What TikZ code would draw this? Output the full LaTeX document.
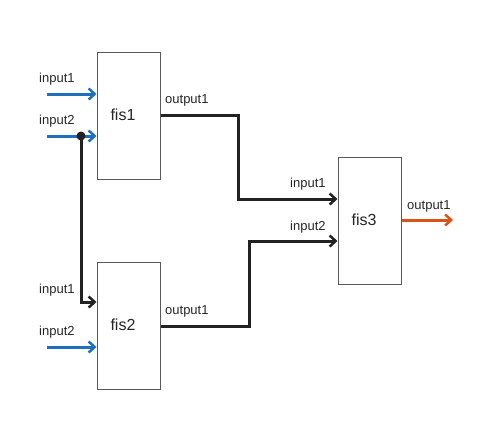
\documentclass[tikz,border=0pt]{standalone}
\usepackage{fontspec}
\setmainfont{Liberation Sans}
\usetikzlibrary{arrows.meta}
\definecolor{inblue}{HTML}{1F6FBF}
\definecolor{outorange}{HTML}{D95319}
\definecolor{wire}{HTML}{222222}
\begin{document}
\begin{tikzpicture}[x=1pt,y=-1pt,
  fisbox/.style={draw=black!65,line width=1pt,fill=white,minimum width=63pt,minimum height=127pt,inner sep=0pt},
  fislabel/.style={font=\fontsize{16}{18}\selectfont,text=black!85},
  portlabel/.style={font=\fontsize{13}{15}\selectfont,text=black!85,inner sep=0pt},
  tip/.style={-{Straight Barb[length=6pt,width=11pt,line width=2.5pt]}},
  blueline/.style={draw=inblue,line width=3pt,tip},
  orangeline/.style={draw=outorange,line width=3pt,tip},
  wireline/.style={draw=wire,line width=3pt},
  ]
\useasboundingbox (0,0) rectangle (490,440);
% boxes
\node[fisbox] (fis1) at (128.5,115.5) {};
\node[fisbox] (fis2) at (128.5,326) {};
\node[fisbox] (fis3) at (369.5,220.5) {};
\node[fislabel] at (123,115) {fis1};
\node[fislabel] at (123,325) {fis2};
\node[fislabel] at (364,220) {fis3};
% coordinates
\coordinate (a1s) at (47,94);
\coordinate (a1e) at (fis1.west |- a1s);
\coordinate (a2s) at (47,136);
\coordinate (a2e) at (fis1.west |- a2s);
\coordinate (dot) at (81,136);
\coordinate (b1c) at (81,302);
\coordinate (b1e) at (fis2.west |- b1c);
\coordinate (b2s) at (47,347);
\coordinate (b2e) at (fis2.west |- b2s);
\coordinate (o1s) at (fis1.east |- 0,115);
\coordinate (o1m) at (238,115);
\coordinate (o1n) at (238,199);
\coordinate (c1e) at (fis3.west |- 0,199);
\coordinate (o2s) at (fis2.east |- 0,326);
\coordinate (o2m) at (249,326);
\coordinate (o2n) at (249,241);
\coordinate (c2e) at (fis3.west |- 0,241);
\coordinate (o3s) at (fis3.east |- 0,220);
\coordinate (o3e) at (453,220);
% wires
\draw[blueline] (a1s) -- (a1e);
\draw[blueline] (a2s) -- (a2e);
\draw[blueline] (b2s) -- (b2e);
\draw[wireline,tip] (dot) -- (b1c) -- (b1e);
\fill[wire] (dot) circle (4.5pt);
\draw[wireline,tip] (o1s) -- (o1m) -- (o1n) -- (c1e);
\draw[wireline,tip] (o2s) -- (o2m) -- (o2n) -- (c2e);
\draw[orangeline] (o3s) -- (o3e);
% labels
\node[portlabel,anchor=west] at (39,79) {input1};
\node[portlabel,anchor=west] at (39,121) {input2};
\node[portlabel,anchor=west] at (39,290) {input1};
\node[portlabel,anchor=west] at (39,332) {input2};
\node[portlabel,anchor=west] at (165,100.5) {output1};
\node[portlabel,anchor=west] at (165,311) {output1};
\node[portlabel,anchor=west] at (290,184) {input1};
\node[portlabel,anchor=west] at (290,227) {input2};
\node[portlabel,anchor=west] at (407,206) {output1};
\end{tikzpicture}
\end{document}
